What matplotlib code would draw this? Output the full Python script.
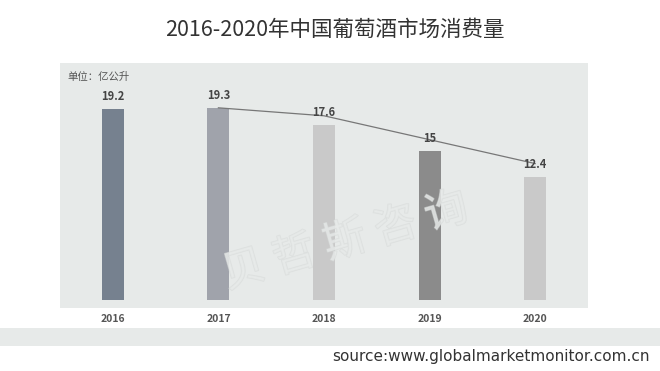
import matplotlib
matplotlib.use("Agg")
import matplotlib.pyplot as plt
import matplotlib.patheffects as pe
from matplotlib.patches import Rectangle

plt.rcParams['font.family'] = ['Noto Sans CJK SC', 'DejaVu Sans']

# 数据
years = ['2016', '2017', '2018', '2019', '2020']
consumption = [19.2, 19.3, 17.6, 15, 12.4]
bar_colors = ['#76818f', '#a0a3ab', '#c9c9c9', '#8b8b8b', '#c9c9c9']
# 趋势线（从2017开始，读自原图）
trend_years = ['2017', '2018', '2019', '2020']
trend_values = [19.3, 18.5, 16.1, 13.7]

panel_color = '#e7eae9'

fig = plt.figure(figsize=(6.6, 3.71), dpi=100)
fig.patch.set_facecolor('white')

# 底部灰色条
fig.patches.append(Rectangle((0, 1 - 346 / 371), 1, 18 / 371, transform=fig.transFigure,
                             facecolor=panel_color, edgecolor='none', zorder=0))

ax = fig.add_axes([60 / 660, 1 - 308 / 371, 528 / 660, 245 / 371])
ax.set_facecolor(panel_color)
for s in ax.spines.values():
    s.set_visible(False)

x = list(range(len(years)))
ax.bar(x, consumption, width=0.21, color=bar_colors, zorder=2)
for xi, v in zip(x, consumption):
    ax.annotate(f'{v:g}', (xi, v), xytext=(0, 4), textcoords='offset points',
                ha='center', va='bottom', fontsize=8, fontweight='bold', color='#444444',
                zorder=4)

tx = [years.index(y) for y in trend_years]
ax.plot(tx, trend_values, color='#777777', lw=0.9, zorder=3)

ax.set_xlim(-0.5, 4.5)
ax.set_ylim(-0.8, 23.8)
ax.set_yticks([])
ax.set_xticks(x)
ax.set_xticklabels(years, fontsize=7.5, fontweight='bold', color='#555555')
ax.tick_params(axis='x', length=0, pad=4)

ax.text(0.015, 0.965, '单位：亿公升', transform=ax.transAxes, fontsize=7.5,
        color='#555555', ha='left', va='top')

# 水印
ax.text(0.54, 0.27, '贝 哲 斯 咨 询', transform=ax.transAxes, rotation=16,
        fontsize=31, color=panel_color, ha='center', va='center', alpha=0.6, zorder=5,
        path_effects=[pe.withStroke(linewidth=1.0, foreground='#d6d9d8')])

fig.text(0.508, 1 - 30 / 371, '2016-2020年中国葡萄酒市场消费量', ha='center', va='center',
         fontsize=15.5, color='#333333')

fig.text(650 / 660, 1 - 357 / 371, 'source:www.globalmarketmonitor.com.cn', ha='right',
         va='center', fontsize=11, color='#333333', family=['DejaVu Sans'])

fig.savefig('out.png', dpi=100)
